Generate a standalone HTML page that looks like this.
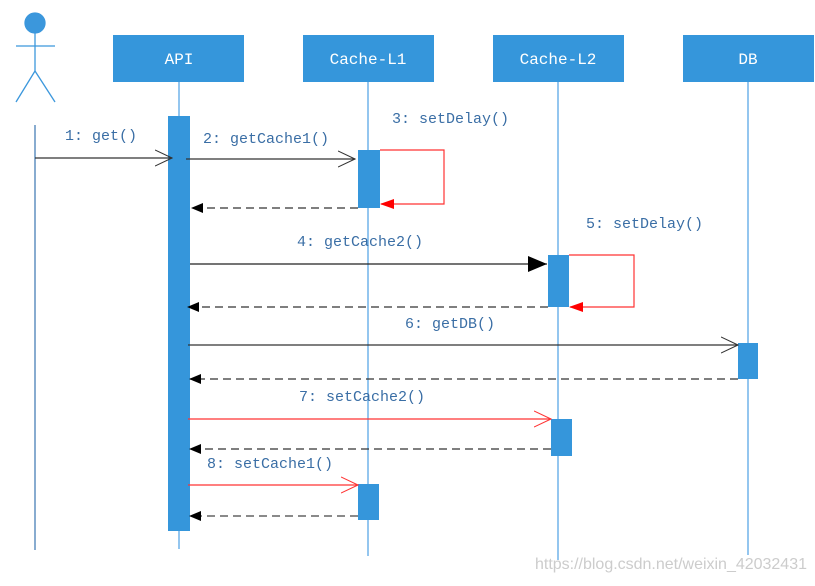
<!DOCTYPE html>
<html><head><meta charset="utf-8"><style>
html,body{margin:0;padding:0;background:#fff;}
svg text{font-family:"Liberation Mono","DejaVu Sans Mono",monospace;}
</style></head><body>
<svg width="815" height="581" viewBox="0 0 815 581" xmlns="http://www.w3.org/2000/svg">
<defs>
<marker id="fb" markerWidth="12" markerHeight="10" refX="11" refY="5" orient="auto" markerUnits="userSpaceOnUse"><path d="M0,0 L12,5 L0,10 z" fill="#000"/></marker>
<marker id="fbl" markerWidth="20" markerHeight="20" refX="19" refY="10" orient="auto" markerUnits="userSpaceOnUse"><path d="M0,2 L19,10 L0,18 z" fill="#000"/></marker>
<marker id="fr" markerWidth="14" markerHeight="10" refX="13" refY="5" orient="auto" markerUnits="userSpaceOnUse"><path d="M0,0 L14,5 L0,10 z" fill="#f00"/></marker>
<marker id="ob" markerWidth="18" markerHeight="18" refX="17" refY="9" orient="auto" markerUnits="userSpaceOnUse"><path d="M0,1 L17,9 L0,17" fill="none" stroke="#333" stroke-width="1"/></marker>
<marker id="or" markerWidth="18" markerHeight="18" refX="17" refY="9" orient="auto" markerUnits="userSpaceOnUse"><path d="M0,1 L17,9 L0,17" fill="none" stroke="#f33" stroke-width="1"/></marker>
</defs>
<g stroke="#3b97dc" stroke-width="1.3" fill="none">
<circle cx="35" cy="23" r="10" fill="#3b97dc"/>
<line x1="35" y1="33" x2="35" y2="71"/>
<line x1="16" y1="46" x2="55" y2="46"/>
<line x1="35" y1="71" x2="16" y2="102"/>
<line x1="35" y1="71" x2="55" y2="102"/>
</g>
<line x1="35" y1="125" x2="35" y2="550" stroke="#3a74b0" stroke-width="1.2"/>
<g stroke="#5aa8e6" stroke-width="1.3">
<line x1="179" y1="82" x2="179" y2="549"/>
<line x1="368" y1="82" x2="368" y2="556"/>
<line x1="558" y1="82" x2="558" y2="560"/>
<line x1="748" y1="82" x2="748" y2="555"/>
</g>
<g fill="#3596db">
<rect x="113" y="35" width="131" height="47"/>
<rect x="303" y="35" width="131" height="47"/>
<rect x="493" y="35" width="131" height="47"/>
<rect x="683" y="35" width="131" height="47"/>
</g>
<g fill="#fff" font-size="16" text-anchor="middle">
<text x="179" y="64">API</text>
<text x="368" y="64">Cache-L1</text>
<text x="558" y="64">Cache-L2</text>
<text x="748" y="64">DB</text>
</g>
<g fill="#3596db">
<rect x="168" y="116" width="22" height="415"/>
<rect x="358" y="150" width="22" height="58"/>
<rect x="358" y="484" width="21" height="36"/>
<rect x="548" y="255" width="21" height="52"/>
<rect x="551" y="419" width="21" height="37"/>
<rect x="738" y="343" width="20" height="36"/>
</g>
<g stroke-width="1.2" fill="none">
<line x1="35" y1="158" x2="172" y2="158" stroke="#333" marker-end="url(#ob)"/>
<line x1="186" y1="159" x2="355" y2="159" stroke="#333" marker-end="url(#ob)"/>
<polyline points="380,150 444,150 444,204 381,204" stroke="#f33" marker-end="url(#fr)"/>
<line x1="358" y1="208" x2="192" y2="208" stroke="#333" stroke-dasharray="8,5" marker-end="url(#fb)"/>
<line x1="190" y1="264" x2="547" y2="264" stroke="#222" marker-end="url(#fbl)"/>
<polyline points="569,255 634,255 634,307 570,307" stroke="#f33" marker-end="url(#fr)"/>
<line x1="548" y1="307" x2="188" y2="307" stroke="#333" stroke-dasharray="8,5" marker-end="url(#fb)"/>
<line x1="188" y1="345" x2="738" y2="345" stroke="#333" marker-end="url(#ob)"/>
<line x1="738" y1="379" x2="190" y2="379" stroke="#333" stroke-dasharray="8,5" marker-end="url(#fb)"/>
<line x1="188" y1="419" x2="551" y2="419" stroke="#f33" marker-end="url(#or)"/>
<line x1="551" y1="449" x2="190" y2="449" stroke="#333" stroke-dasharray="8,5" marker-end="url(#fb)"/>
<line x1="188" y1="485" x2="358" y2="485" stroke="#f33" marker-end="url(#or)"/>
<line x1="358" y1="516" x2="190" y2="516" stroke="#444" stroke-dasharray="8,5" marker-end="url(#fb)"/>
</g>
<g fill="#3a6ea5" font-size="15">
<text x="65" y="140">1: get()</text>
<text x="203" y="143">2: getCache1()</text>
<text x="392" y="123">3: setDelay()</text>
<text x="297" y="246">4: getCache2()</text>
<text x="586" y="228">5: setDelay()</text>
<text x="405" y="328">6: getDB()</text>
<text x="299" y="401">7: setCache2()</text>
<text x="207" y="468">8: setCache1()</text>
</g>
<text x="535" y="569" fill="#ccc" font-size="16" textLength="272" style="font-family:'Liberation Sans',sans-serif">https://blog.csdn.net/weixin_42032431</text>
</svg>
</body></html>
